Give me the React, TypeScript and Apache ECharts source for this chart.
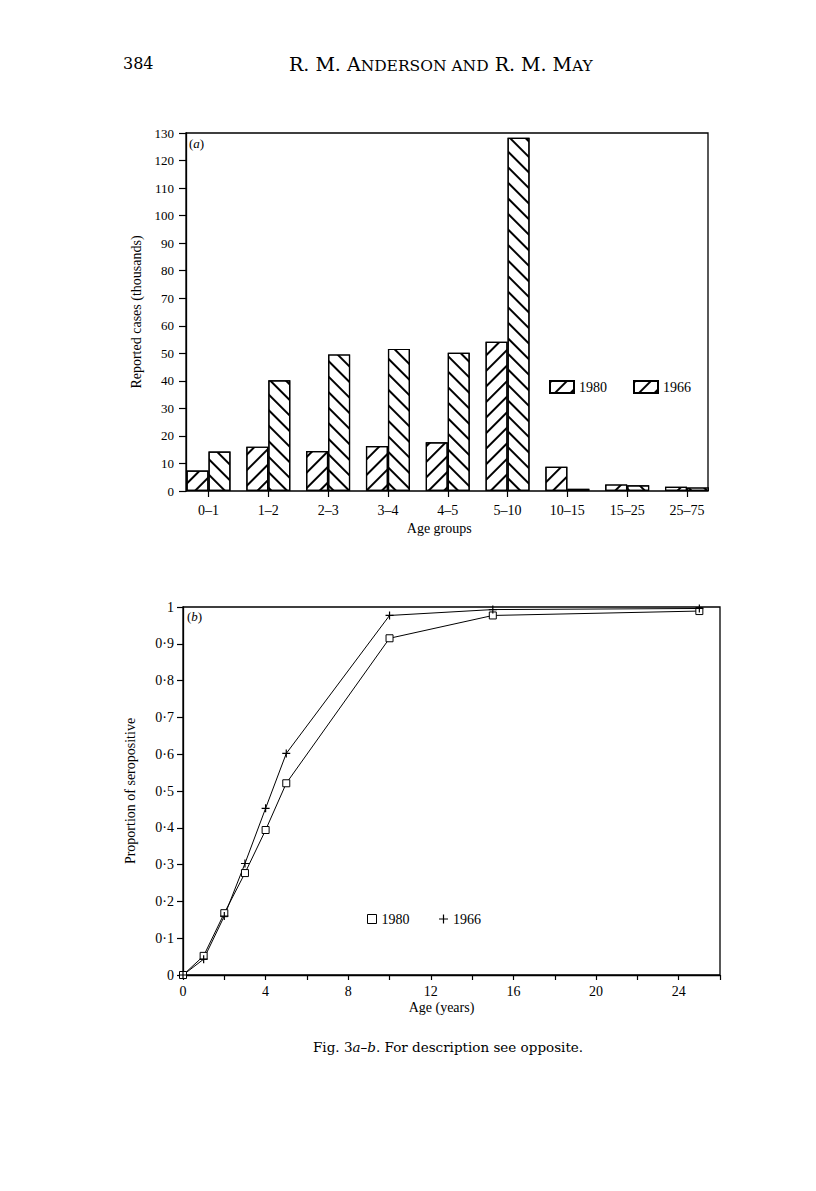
import React, { useEffect, useRef } from 'react';
import * as echarts from 'echarts';

// ---- data (a) ----
const categories = ['0–1', '1–2', '2–3', '3–4', '4–5', '5–10', '10–15', '15–25', '25–75'];
const cases1980 = [7.4, 16.1, 14.5, 16.3, 17.7, 54.2, 8.8, 2.4, 1.5];
const cases1966 = [14.3, 40.2, 49.6, 51.6, 50.2, 128.3, 0.8, 2.1, 1.3];

// ---- data (b) ----
const ages = [0, 1, 2, 3, 4, 5, 10, 15, 25];
const sero1980 = [0, 0.052, 0.168, 0.277, 0.394, 0.521, 0.915, 0.977, 0.989];
const sero1966 = [0, 0.043, 0.16, 0.303, 0.453, 0.602, 0.977, 0.993, 0.996];

const SERIF = '"Liberation Serif", "Times New Roman", serif';
const HEAD = '"DejaVu Serif", serif';

export default function App() {
  const ref = useRef<HTMLDivElement>(null);
  useEffect(() => {
    const chart = echarts.init(ref.current!, null, { renderer: 'svg' });
    const slash = {
      symbol: 'rect', symbolSize: 1, dashArrayX: [1, 0], dashArrayY: [1.2, 8.5],
      rotation: -Math.PI / 4, color: '#000', backgroundColor: '#fff'
    };
    const back = { ...slash, rotation: Math.PI / 4 };
    const plus = 'path://M4,0L4,8M0,4L8,4';
    const pairs = (xs: number[], ys: number[]) => xs.map((x, i) => [x, ys[i]]);
    const dot = (v: number) => (v === 0 ? '0' : v === 1 ? '1' : v.toFixed(1).replace('.', '·'));

    const option: any = {
      animation: false,
      backgroundColor: '#fff',
      textStyle: { fontFamily: SERIF, color: '#000' },
      grid: [
        { left: 186, top: 133, width: 522, height: 358, show: true, borderColor: '#000', borderWidth: 1.3, backgroundColor: 'transparent' },
        { left: 178.6, top: 133, width: 538.3, height: 358 },
        { left: 183, top: 607, width: 537, height: 368, show: true, borderColor: '#000', borderWidth: 1.3, backgroundColor: 'transparent' }
      ],
      xAxis: [
        { gridIndex: 0, type: 'value', min: 0, max: 1, show: false },
        {
          gridIndex: 1, type: 'category', data: categories,
          axisLine: { show: false },
          axisTick: { show: true, alignWithLabel: true, length: 6, lineStyle: { color: '#000', width: 1.2 } },
          axisLabel: { color: '#000', fontFamily: SERIF, fontSize: 14, margin: 12 },
          name: 'Age groups', nameLocation: 'middle', nameGap: 30,
          nameTextStyle: { color: '#000', fontFamily: SERIF, fontSize: 14, padding: [0, 17, 0, 0] }
        },
        {
          gridIndex: 2, type: 'value', min: 0, max: 26, interval: 2,
          axisLine: { show: true, lineStyle: { color: '#000', width: 1.3 } },
          axisTick: { show: true, length: 5, lineStyle: { color: '#000', width: 1.2 } },
          axisLabel: { color: '#000', fontFamily: SERIF, fontSize: 14, margin: 9, formatter: (v: number) => (v % 4 === 0 && v <= 24 ? String(v) : '') },
          splitLine: { show: false },
          name: 'Age (years)', nameLocation: 'middle', nameGap: 25,
          nameTextStyle: { color: '#000', fontFamily: SERIF, fontSize: 14, padding: [0, 20, 0, 0] }
        }
      ],
      yAxis: [
        {
          gridIndex: 0, type: 'value', min: 0, max: 130, interval: 10,
          axisLine: { show: true, lineStyle: { color: '#000', width: 1.3 } },
          axisTick: { show: true, length: 7, lineStyle: { color: '#000', width: 1.2 } },
          axisLabel: { color: '#000', fontFamily: SERIF, fontSize: 13, margin: 12 },
          splitLine: { show: false },
          name: 'Reported cases (thousands)', nameLocation: 'middle', nameGap: 39,
          nameTextStyle: { color: '#000', fontFamily: SERIF, fontSize: 14 }
        },
        { gridIndex: 1, type: 'value', min: 0, max: 130, show: false },
        {
          gridIndex: 2, type: 'value', min: 0, max: 1, interval: 0.1,
          axisLine: { show: true, lineStyle: { color: '#000', width: 1.3 } },
          axisTick: { show: true, length: 6, lineStyle: { color: '#000', width: 1.2 } },
          axisLabel: { color: '#000', fontFamily: SERIF, fontSize: 14, margin: 9, formatter: dot },
          splitLine: { show: false },
          name: 'Proportion of seropositive', nameLocation: 'middle', nameGap: 46,
          nameTextStyle: { color: '#000', fontFamily: SERIF, fontSize: 14 }
        }
      ],
      legend: [
        {
          left: 549, top: 380, orient: 'horizontal', icon: 'rect', itemWidth: 24, itemHeight: 12, itemGap: 26, padding: 0,
          selectedMode: false, formatter: (n: string) => n.slice(1),
          textStyle: { color: '#000', fontFamily: SERIF, fontSize: 14 },
          data: [
            { name: 'a1980' },
            { name: 'a1966', itemStyle: { decal: slash } }
          ]
        },
        {
          left: 367, top: 912, orient: 'horizontal', itemWidth: 9, itemHeight: 9, itemGap: 27, padding: 0,
          selectedMode: false, formatter: (n: string) => n.slice(1),
          textStyle: { color: '#000', fontFamily: SERIF, fontSize: 14 },
          data: [
            { name: 'b1980', icon: 'rect', itemStyle: { color: '#fff', borderColor: '#000', borderWidth: 1 } },
            { name: 'b1966', icon: plus, itemStyle: { color: 'none', borderColor: '#000', borderWidth: 1.2 } }
          ]
        }
      ],
      series: [
        {
          name: 'a1980', type: 'bar', xAxisIndex: 1, yAxisIndex: 1, data: cases1980,
          barWidth: 22, barGap: '0%',
          itemStyle: { color: '#fff', borderColor: '#000', borderWidth: 1.2, decal: slash }
        },
        {
          name: 'a1966', type: 'bar', xAxisIndex: 1, yAxisIndex: 1, data: cases1966,
          barWidth: 22, barGap: '0%',
          itemStyle: { color: '#fff', borderColor: '#000', borderWidth: 1.2, decal: back }
        },
        {
          name: 'b1980', type: 'line', xAxisIndex: 2, yAxisIndex: 2, data: pairs(ages, sero1980),
          symbol: 'rect', symbolSize: 7, showAllSymbol: true,
          lineStyle: { color: '#000', width: 1 },
          itemStyle: { color: '#fff', borderColor: '#000', borderWidth: 1 }
        },
        {
          name: 'b1966', type: 'line', xAxisIndex: 2, yAxisIndex: 2, data: pairs(ages, sero1966),
          symbol: plus, symbolSize: 8, showAllSymbol: true,
          lineStyle: { color: '#000', width: 1 },
          itemStyle: { color: 'none', borderColor: '#000', borderWidth: 1.2 }
        }
      ],
      graphic: [
        {
          type: 'text', x: 123, y: 63,
          style: { text: '384', font: `16px ${HEAD}`, fill: '#000', textVerticalAlign: 'middle' }
        },
        {
          type: 'text', x: 289, y: 63,
          style: {
            text: '{b|R. M. A}{s|NDERSON AND}{b| R. M. M}{s|AY}',
            textVerticalAlign: 'middle',
            rich: {
              b: { fontFamily: HEAD, fontSize: 19, fill: '#000', verticalAlign: 'bottom', lineHeight: 21 },
              s: { fontFamily: HEAD, fontSize: 15.5, fill: '#000', verticalAlign: 'bottom', lineHeight: 21 }
            }
          }
        },
        {
          type: 'text', x: 189, y: 143,
          style: {
            text: '{n|(}{i|a}{n|)}', textVerticalAlign: 'middle',
            rich: { n: { fontFamily: SERIF, fontSize: 13, fill: '#000' }, i: { fontFamily: SERIF, fontSize: 13, fontStyle: 'italic', fill: '#000' } }
          }
        },
        {
          type: 'text', x: 187, y: 616,
          style: {
            text: '{n|(}{i|b}{n|)}', textVerticalAlign: 'middle',
            rich: { n: { fontFamily: SERIF, fontSize: 13, fill: '#000' }, i: { fontFamily: SERIF, fontSize: 13, fontStyle: 'italic', fill: '#000' } }
          }
        },
        {
          type: 'text', x: 313, y: 1047,
          style: {
            text: '{n|Fig. 3}{i|a–b}{n|. For description see opposite.}', textVerticalAlign: 'middle',
            rich: { n: { fontFamily: HEAD, fontSize: 13.5, fill: '#000' }, i: { fontFamily: HEAD, fontSize: 13.5, fontStyle: 'italic', fill: '#000' } }
          }
        }
      ]
    };
    chart.setOption(option);
    return () => chart.dispose();
  }, []);
  return <div ref={ref} style={{ position: 'absolute', left: 0, top: 0, width: 816, height: 1191, background: '#fff' }} />;
}
